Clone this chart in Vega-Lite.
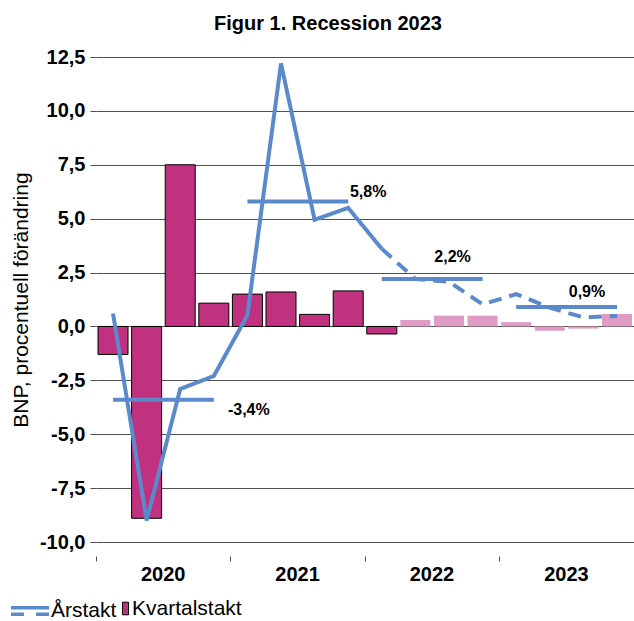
{
  "$schema": "https://vega.github.io/schema/vega-lite/v6.json",
  "width": 538,
  "height": 485,
  "autosize": {"type": "none"},
  "padding": {"left": 96, "top": 57, "right": 0, "bottom": 79},
  "background": "white",
  "title": {
    "text": "Figur 1. Recession 2023",
    "font": "Liberation Sans",
    "fontSize": 20,
    "fontWeight": "bold",
    "color": "black",
    "anchor": "middle",
    "frame": "group",
    "dx": -37,
    "offset": 13
  },
  "config": {"view": {"stroke": null}, "font": "Liberation Sans"},
  "datasets": {
    "kvartal": [
      {"kvartal": "2020K1", "kvartalstakt": -1.3, "status": "utfall"},
      {"kvartal": "2020K2", "kvartalstakt": -8.9, "status": "utfall"},
      {"kvartal": "2020K3", "kvartalstakt": 7.5, "status": "utfall"},
      {"kvartal": "2020K4", "kvartalstakt": 1.08, "status": "utfall"},
      {"kvartal": "2021K1", "kvartalstakt": 1.5, "status": "utfall"},
      {"kvartal": "2021K2", "kvartalstakt": 1.6, "status": "utfall"},
      {"kvartal": "2021K3", "kvartalstakt": 0.56, "status": "utfall"},
      {"kvartal": "2021K4", "kvartalstakt": 1.65, "status": "utfall"},
      {"kvartal": "2022K1", "kvartalstakt": -0.35, "status": "utfall"},
      {"kvartal": "2022K2", "kvartalstakt": 0.3, "status": "prognos"},
      {"kvartal": "2022K3", "kvartalstakt": 0.5, "status": "prognos"},
      {"kvartal": "2022K4", "kvartalstakt": 0.5, "status": "prognos"},
      {"kvartal": "2023K1", "kvartalstakt": 0.2, "status": "prognos"},
      {"kvartal": "2023K2", "kvartalstakt": -0.2, "status": "prognos"},
      {"kvartal": "2023K3", "kvartalstakt": -0.1, "status": "prognos"},
      {"kvartal": "2023K4", "kvartalstakt": 0.58, "status": "prognos"}
    ],
    "arstakt": [
      {"kvartal": "2020K1", "arstakt": 0.6, "serie": "utfall"},
      {"kvartal": "2020K2", "arstakt": -9.0, "serie": "utfall"},
      {"kvartal": "2020K3", "arstakt": -2.9, "serie": "utfall"},
      {"kvartal": "2020K4", "arstakt": -2.3, "serie": "utfall"},
      {"kvartal": "2021K1", "arstakt": 0.52, "serie": "utfall"},
      {"kvartal": "2021K2", "arstakt": 12.2, "serie": "utfall"},
      {"kvartal": "2021K3", "arstakt": 4.95, "serie": "utfall"},
      {"kvartal": "2021K4", "arstakt": 5.5, "serie": "utfall"},
      {"kvartal": "2022K1", "arstakt": 3.6, "serie": "utfall"},
      {"kvartal": "2022K1", "arstakt": 3.6, "serie": "prognos"},
      {"kvartal": "2022K2", "arstakt": 2.2, "serie": "prognos"},
      {"kvartal": "2022K3", "arstakt": 2.07, "serie": "prognos"},
      {"kvartal": "2022K4", "arstakt": 1.03, "serie": "prognos"},
      {"kvartal": "2023K1", "arstakt": 1.5, "serie": "prognos"},
      {"kvartal": "2023K2", "arstakt": 0.87, "serie": "prognos"},
      {"kvartal": "2023K3", "arstakt": 0.42, "serie": "prognos"},
      {"kvartal": "2023K4", "arstakt": 0.49, "serie": "prognos"}
    ],
    "snitt": [
      {"ar": "2020", "kvartal": "2020K1", "snitt": -3.4},
      {"ar": "2020", "kvartal": "2020K4", "snitt": -3.4, "etikett": "-3,4%"},
      {"ar": "2021", "kvartal": "2021K1", "snitt": 5.8},
      {"ar": "2021", "kvartal": "2021K4", "snitt": 5.8, "etikett": "5,8%"},
      {"ar": "2022", "kvartal": "2022K1", "snitt": 2.2},
      {"ar": "2022", "kvartal": "2022K4", "snitt": 2.2, "etikett": "2,2%"},
      {"ar": "2023", "kvartal": "2023K1", "snitt": 0.9},
      {"ar": "2023", "kvartal": "2023K4", "snitt": 0.9, "etikett": "0,9%"}
    ]
  },
  "layer": [
    {
      "data": {"name": "kvartal"},
      "transform": [{"filter": "datum.status == 'utfall'"}],
      "mark": {"type": "bar", "stroke": "black", "strokeWidth": 1},
      "encoding": {
        "x": {
          "field": "kvartal",
          "type": "ordinal",
          "scale": {
            "domain": ["2020K1","2020K2","2020K3","2020K4","2021K1","2021K2","2021K3","2021K4","2022K1","2022K2","2022K3","2022K4","2023K1","2023K2","2023K3","2023K4"],
            "paddingInner": 0.107,
            "paddingOuter": 0.06
          },
          "axis": {
            "title": null,
            "bandPosition": 0,
            "domain": false,
            "offset": 14,
            "tickSize": 5,
            "tickColor": "#505050",
            "tickWidth": 1,
            "tickOffset": -2,
            "labelOffset": -15.5,
            "tickOpacity": {"condition": {"test": "indexof(datum.value, 'K1') >= 0", "value": 1}, "value": 0},
            "labelExpr": "indexof(datum.value, 'K3') >= 0 ? substring(datum.value, 0, 4) : ''",
            "labelOverlap": false,
            "labelAngle": 0,
            "labelFont": "Liberation Sans",
            "labelFontSize": 20,
            "labelFontWeight": "bold",
            "labelColor": "black",
            "labelPadding": 3
          }
        },
        "y": {
          "field": "kvartalstakt",
          "type": "quantitative",
          "title": "BNP, procentuell förändring",
          "scale": {"domain": [-10, 12.5], "nice": false, "zero": false},
          "axis": {
            "values": [-10, -7.5, -5, -2.5, 0, 2.5, 5, 7.5, 10, 12.5],
            "labelExpr": "replace(replace(format(datum.value, '.1f'), '.', ','), '\u2212', '-')",
            "grid": true,
            "gridColor": "#505050",
            "gridWidth": 1,
            "domain": false,
            "tickSize": 6,
            "tickColor": "#505050",
            "labelFont": "Liberation Sans",
            "labelFontSize": 20,
            "labelFontWeight": "bold",
            "labelColor": "black",
            "labelPadding": 5,
            "titleFont": "Liberation Sans",
            "titleFontSize": 21,
            "titleFontWeight": "normal",
            "titleColor": "black",
            "titlePadding": 8
          }
        },
        "fill": {
          "datum": "Kvartalstakt",
          "type": "nominal",
          "scale": {"range": ["#C0327F"]},
          "legend": {
            "orient": "none",
            "legendX": 19,
            "legendY": 541,
            "title": null,
            "padding": 0,
            "symbolType": "M-1,-2.1H1V2.1H-1Z",
            "symbolSize": 36,
            "symbolStrokeColor": "black",
            "symbolStrokeWidth": 1,
            "labelOffset": -4,
            "labelFont": "Liberation Sans",
            "labelFontSize": 21,
            "labelColor": "black"
          }
        }
      }
    },
    {
      "data": {"name": "kvartal"},
      "transform": [{"filter": "datum.status == 'prognos'"}],
      "mark": {"type": "bar", "fill": "#E09BC4"},
      "encoding": {
        "x": {"field": "kvartal", "type": "ordinal"},
        "y": {"field": "kvartalstakt", "type": "quantitative", "title": "BNP, procentuell förändring"}
      }
    },
    {
      "data": {"name": "arstakt"},
      "mark": {"type": "line", "strokeWidth": 4, "strokeJoin": "miter", "strokeCap": "butt"},
      "encoding": {
        "x": {"field": "kvartal", "type": "ordinal", "bandPosition": 0.5},
        "y": {"field": "arstakt", "type": "quantitative", "title": "BNP, procentuell förändring"},
        "stroke": {
          "datum": "Årstakt",
          "type": "nominal",
          "scale": {"range": ["#5A8ACB"]},
          "legend": {
            "orient": "none",
            "legendX": -87,
            "legendY": 533,
            "title": null,
            "padding": 0,
            "symbolType": "M-1,-0.17H1M-1,0.17H-0.32M0.32,0.17H1",
            "symbolSize": 1444,
            "symbolStrokeWidth": 3.5,
            "symbolDash": [1, 0],
            "labelOffset": 0,
            "labelFont": "Liberation Sans",
            "labelFontSize": 21,
            "labelColor": "black"
          }
        },
        "strokeDash": {
          "field": "serie",
          "type": "nominal",
          "scale": {"domain": ["utfall", "prognos"], "range": [[1, 0], [13, 8]]},
          "legend": null
        }
      }
    },
    {
      "data": {"name": "snitt"},
      "mark": {"type": "line", "strokeWidth": 4, "stroke": "#5A8ACB", "strokeCap": "butt"},
      "encoding": {
        "x": {"field": "kvartal", "type": "ordinal", "bandPosition": 0.5},
        "y": {"field": "snitt", "type": "quantitative", "title": "BNP, procentuell förändring"},
        "detail": {"field": "ar", "type": "nominal"}
      }
    },
    {
      "data": {"name": "snitt"},
      "transform": [{"filter": "isValid(datum.etikett)"}],
      "mark": {
        "type": "text",
        "font": "Liberation Sans",
        "fontSize": 16,
        "fontWeight": "bold",
        "color": "black",
        "align": "center",
        "baseline": "middle",
        "dx": {"expr": "datum.ar == '2020' ? 35 : datum.ar == '2021' ? 20 : -30"},
        "dy": {"expr": "datum.ar == '2020' ? 10 : datum.ar == '2021' ? -9 : datum.ar == '2022' ? -22 : -15"}
      },
      "encoding": {
        "x": {"field": "kvartal", "type": "ordinal", "bandPosition": 0.5},
        "y": {"field": "snitt", "type": "quantitative", "title": "BNP, procentuell förändring"},
        "text": {"field": "etikett"}
      }
    }
  ]
}
